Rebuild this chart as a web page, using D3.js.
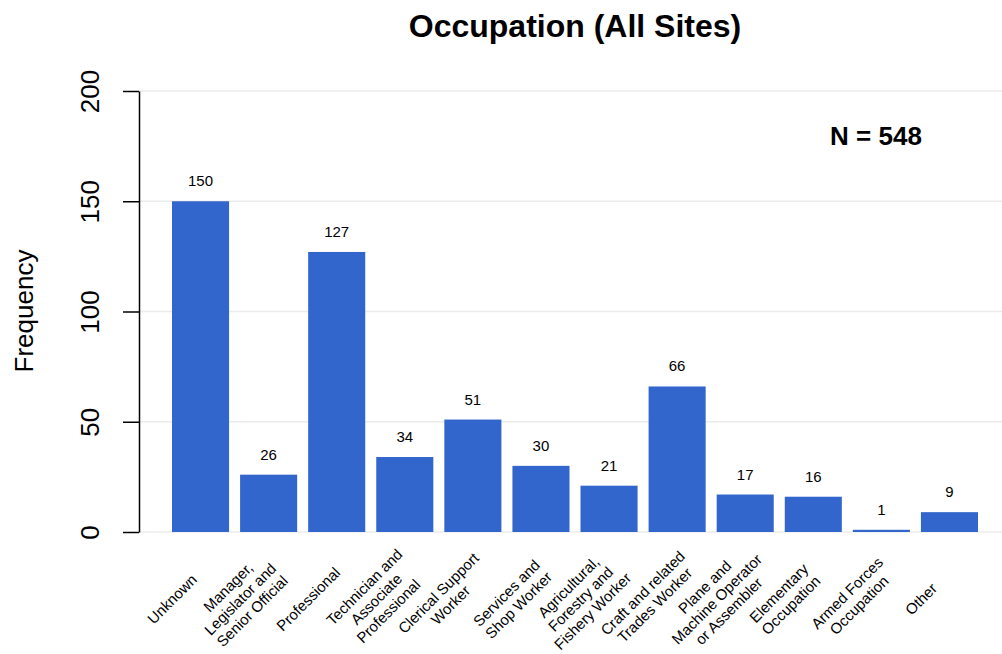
<!DOCTYPE html>
<html>
<head>
<meta charset="utf-8">
<script src="https://cdn.jsdelivr.net/npm/d3@7"></script>
<style>
  body { margin: 0; background: #fff; }
  svg { font-family: "Liberation Sans", Arial, sans-serif; display: block; }
</style>
</head>
<body>
<script>
// Datos del grafico
const categorias = [
  "Unknown",
  "Manager,\nLegislator and\nSenior Official",
  "Professional",
  "Technician and\nAssociate\nProfessional",
  "Clerical Support\nWorker",
  "Services and\nShop Worker",
  "Agricultural,\nForestry and\nFishery Worker",
  "Craft and related\nTrades Worker",
  "Plane and\nMachine Operator\nor Assembler",
  "Elementary\nOccupation",
  "Armed Forces\nOccupation",
  "Other"
];
const frecuencias = [150, 26, 127, 34, 51, 30, 21, 66, 17, 16, 1, 9];
const ticksY = [0, 50, 100, 150, 200];
const titulo = "Occupation (All Sites)";
const etiquetaN = "N = 548";

const width = 1002, height = 654;
const margin = {top: 91, right: 18, bottom: 122, left: 139};

const svg = d3.select("body").append("svg")
  .attr("width", width)
  .attr("height", height);

// Escalas
const xScale = d3.scaleBand()
  .domain(categorias)
  .range([166.5, 983.5])
  .paddingInner(11 / 68)
  .paddingOuter(11 / 136);

const yScale = d3.scaleLinear()
  .domain([0, 200])
  .range([height - margin.bottom, margin.top]);

// Lineas de la cuadricula
svg.append("g")
  .selectAll("line")
  .data(ticksY)
  .enter().append("line")
  .attr("x1", margin.left)
  .attr("x2", width)
  .attr("y1", d => yScale(d))
  .attr("y2", d => yScale(d))
  .attr("stroke", "#ececec")
  .attr("stroke-width", 1.5);

// Barras
svg.append("g")
  .selectAll("rect")
  .data(frecuencias)
  .enter().append("rect")
  .attr("x", (d, i) => xScale(categorias[i]))
  .attr("y", d => yScale(d))
  .attr("width", xScale.bandwidth())
  .attr("height", d => yScale(0) - yScale(d))
  .attr("fill", "#3366cc");

// Valores encima de las barras
svg.append("g")
  .selectAll("text")
  .data(frecuencias)
  .enter().append("text")
  .attr("x", (d, i) => xScale(categorias[i]) + xScale.bandwidth() / 2)
  .attr("y", d => yScale(d) - 15)
  .attr("text-anchor", "middle")
  .style("font-size", "15px")
  .attr("fill", "#000")
  .text(d => d);

// Eje Y
const ejeY = svg.append("g")
  .attr("transform", `translate(${margin.left},0)`)
  .call(d3.axisLeft(yScale).tickValues(ticksY).tickSize(16).tickSizeOuter(0));
ejeY.select(".domain").attr("stroke", "#000").attr("stroke-width", 1.5);
ejeY.selectAll(".tick line").attr("stroke", "#000").attr("stroke-width", 1.5);
ejeY.selectAll(".tick text")
  .attr("x", null).attr("dy", null)
  .attr("transform", "translate(-40,0) rotate(-90)")
  .attr("text-anchor", "middle")
  .style("font-size", "26px")
  .style("font-family", "'Liberation Sans', Arial, sans-serif")
  .attr("fill", "#000");

// Etiquetas del eje X (rotadas, varias lineas)
const etiquetas = svg.append("g")
  .selectAll("g")
  .data(categorias)
  .enter().append("g")
  .attr("transform", d => `translate(${xScale(d) + xScale.bandwidth() / 2 - 28.5},599) rotate(-45)`);

etiquetas.each(function(d) {
  const lineas = d.split("\n");
  const lh = 17;
  const t = d3.select(this).append("text")
    .attr("text-anchor", "middle")
    .style("font-size", "15px")
    .attr("fill", "#000");
  lineas.forEach((l, i) => {
    t.append("tspan")
      .attr("x", 0)
      .attr("y", (i - (lineas.length - 1) / 2) * lh + 5.4)
      .text(l);
  });
});

// Titulo del eje Y
svg.append("text")
  .attr("transform", "translate(33,311) rotate(-90)")
  .attr("text-anchor", "middle")
  .style("font-size", "26px")
  .attr("fill", "#000")
  .text("Frequency");

// Titulo
svg.append("text")
  .attr("x", 575)
  .attr("y", 37)
  .attr("text-anchor", "middle")
  .style("font-size", "32px")
  .style("font-weight", "bold")
  .attr("fill", "#000")
  .text(titulo);

// Anotacion N
svg.append("text")
  .attr("x", 876)
  .attr("y", 145)
  .attr("text-anchor", "middle")
  .style("font-size", "26px")
  .style("font-weight", "bold")
  .attr("fill", "#000")
  .text(etiquetaN);
</script>
</body>
</html>
